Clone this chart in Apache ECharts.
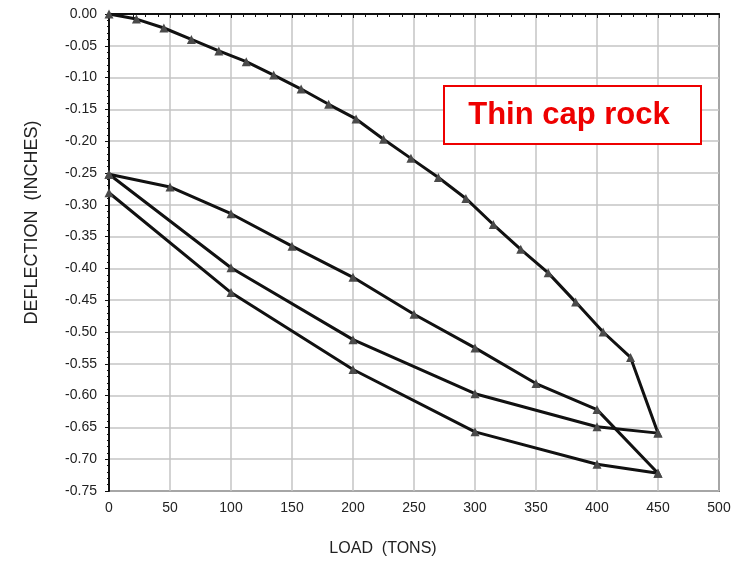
<!DOCTYPE html>
<html>
<head>
<meta charset="utf-8">
<script src="https://cdn.jsdelivr.net/npm/echarts@6/dist/echarts.min.js"></script>
<style>html,body{margin:0;padding:0;background:#fff;}#c{width:742px;height:564px;}</style>
</head>
<body>
<div id="c"></div>
<script>
// Loading cycle 1 (initial loading)
const load1Loads = [0, 22.5, 45, 67.5, 90, 112.5, 135, 157.5, 180, 202.5, 225, 247.5, 270, 292.5, 315, 337.5, 360, 382.5, 405, 427.5, 450];
const load1Defl  = [0, -0.008, -0.022, -0.040, -0.058, -0.075, -0.096, -0.118, -0.142, -0.165, -0.197, -0.227, -0.257, -0.290, -0.331, -0.370, -0.407, -0.453, -0.500, -0.540, -0.659];
// Unloading 1
const unload1Loads = [450, 400, 300, 200, 100, 0];
const unload1Defl  = [-0.659, -0.649, -0.597, -0.512, -0.399, -0.252];
// Reloading 2
const reload2Loads = [0, 50, 100, 150, 200, 250, 300, 350, 400, 450];
const reload2Defl  = [-0.252, -0.272, -0.314, -0.365, -0.414, -0.472, -0.525, -0.581, -0.622, -0.722];
// Unloading 2
const unload2Loads = [450, 400, 300, 200, 100, 0];
const unload2Defl  = [-0.722, -0.708, -0.657, -0.559, -0.438, -0.281];

const xTicks = [0, 500, 50];
const yTicks = [-0.75, 0, 0.05];
const xTitle = 'LOAD  (TONS)';
const yTitle = 'DEFLECTION  (INCHES)';
const noteText = 'Thin cap rock';

function pairs(xs, ys) { return xs.map((x, i) => [x, ys[i]]); }
const segments = [
  pairs(load1Loads, load1Defl),
  pairs(unload1Loads, unload1Defl),
  pairs(reload2Loads, reload2Defl),
  pairs(unload2Loads, unload2Defl)
];

const chart = echarts.init(document.getElementById('c'), null, {renderer: 'canvas'});
const font = 'Liberation Sans, Arial, sans-serif';
chart.setOption({
  animation: false,
  backgroundColor: '#fff',
  grid: {left: 109, right: 23, top: 14, bottom: 73, show: true, borderColor: '#111', borderWidth: 1.5, containLabel: false},
  xAxis: {
    type: 'value', min: xTicks[0], max: xTicks[1], interval: xTicks[2],
    name: xTitle, nameLocation: 'middle', nameGap: 50,
    nameTextStyle: {fontFamily: font, fontSize: 16, color: '#222', padding: [0, 62, 0, 0]},
    axisLine: {show: true, lineStyle: {color: '#111', width: 2}},
    axisTick: {show: true, length: 4, lineStyle: {color: '#111'}},
    minorTick: {show: true, splitNumber: 5, length: 3, lineStyle: {color: '#111'}},
    axisLabel: {fontFamily: font, fontSize: 14, color: '#222', margin: 10},
    splitLine: {show: true, lineStyle: {color: '#c4c4c4', width: 1.5}}
  },
  yAxis: {
    type: 'value', min: yTicks[0], max: yTicks[1], interval: yTicks[2],
    name: yTitle, nameLocation: 'middle', nameGap: 68, nameRotate: 90,
    nameTextStyle: {fontFamily: font, fontSize: 18, color: '#222', padding: [0, 0, 0, 60]},
    axisLine: {show: true, lineStyle: {color: '#111', width: 2}},
    axisTick: {show: true, length: 4, lineStyle: {color: '#111'}},
    minorTick: {show: true, splitNumber: 5, length: 2, lineStyle: {color: '#111'}},
    axisLabel: {fontFamily: font, fontSize: 14, color: '#222', margin: 12, formatter: v => v.toFixed(2)},
    splitLine: {show: true, lineStyle: {color: '#c4c4c4', width: 1.5}}
  },
  series: segments.map(d => ({
    type: 'line', data: d, symbol: 'triangle', symbolSize: 9,
    itemStyle: {color: '#4a4a4a'},
    lineStyle: {color: '#111', width: 3},
    z: 3
  })),
  graphic: [{
    type: 'group', left: 443, top: 85, z: 100,
    children: [
      {type: 'rect', z: 100, shape: {x: 0, y: 0, width: 257, height: 58}, style: {fill: '#fff', stroke: '#ee0000', lineWidth: 2}},
      {type: 'text', z: 101, x: 125, y: 29, style: {text: noteText, fill: '#ee0000', font: 'bold 31px Liberation Sans, Arial, sans-serif', align: 'center', verticalAlign: 'middle'}}
    ]
  }]
});
</script>
</body>
</html>
